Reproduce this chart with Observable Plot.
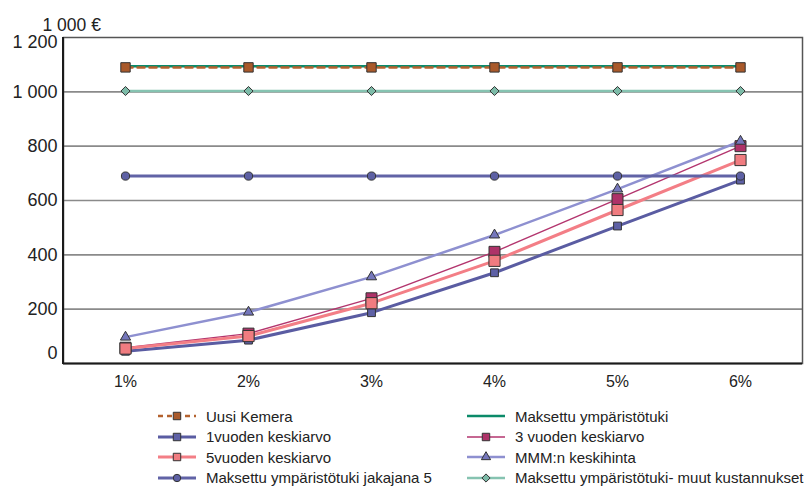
<!DOCTYPE html>
<html>
<head>
<meta charset="utf-8">
<script src="https://cdn.jsdelivr.net/npm/d3@7"></script>
<script src="https://cdn.jsdelivr.net/npm/@observablehq/plot@0.6"></script>
<style>
  body { margin: 0; background: #fff; font-family: "Liberation Sans", Arial, sans-serif; }
  #chart { width: 808px; }
  #legend {
    display: grid;
    grid-template-columns: 309px 341px;
    grid-auto-rows: 20.5px;
    margin-left: 157px;
    padding-top: 6px;
    font-size: 15px;
    color: #222;
  }
  .item { display: flex; align-items: center; white-space: nowrap; }
  .item svg { flex: none; margin-right: 9px; }
</style>
</head>
<body>
<div id="chart"></div>
<script>
// Korkokanta (x-akseli)
const rates = ["1%", "2%", "3%", "4%", "5%", "6%"];

// Sarjat, 1 000 €
const uusiKemera = [1090, 1090, 1090, 1090, 1090, 1090];
const maksettuTuki = [1094, 1094, 1094, 1094, 1094, 1094];
const vuosi1 = [45, 86, 187, 334, 506, 675];
const vuosi3 = [58, 110, 240, 411, 605, 800];
const vuosi5 = [55, 101, 222, 378, 565, 749];
const mmmHinta = [97, 189, 319, 473, 642, 818];
const tukiJakajana5 = [690, 690, 690, 690, 690, 690];
const tukiMuutKustannukset = [1003, 1003, 1003, 1003, 1003, 1003];

// y-akselin jakoviivat ja nimiöt
const yTicks = [0, 200, 400, 600, 800, 1000, 1200];
const yUnit = "1 000 €";

const series = [
  {name: "Uusi Kemera", values: uusiKemera, stroke: "#B4622E", width: 2.5, dash: "7,5", symbol: "square", r: 5.3, fill: "#A9592A"},
  {name: "Maksettu ympäristötuki", values: maksettuTuki, stroke: "#0B8A69", width: 2.5, dash: null, symbol: null},
  {name: "1vuoden keskiarvo", values: vuosi1, stroke: "#5A5CA2", width: 3, dash: null, symbol: "square", r: 4.4, fill: "#5E61A6"},
  {name: "3 vuoden keskiarvo", values: vuosi3, stroke: "#B3356E", width: 1.4, dash: null, symbol: "square", r: 6.2, fill: "#AE3268"},
  {name: "5vuoden keskiarvo", values: vuosi5, stroke: "#F37E86", width: 3, dash: null, symbol: "square", r: 6.3, fill: "#F07C80"},
  {name: "MMM:n keskihinta", values: mmmHinta, stroke: "#8E90D0", width: 2.5, dash: null, symbol: "triangle", r: 3.8, fill: "#7577BC"},
  {name: "Maksettu ympäristötuki jakajana 5", values: tukiJakajana5, stroke: "#6163A6", width: 3, dash: null, symbol: "circle", r: 4.1, fill: "#5D60A4"},
  {name: "Maksettu ympäristötuki- muut kustannukset", values: tukiMuutKustannukset, stroke: "#86C3B1", width: 2.5, dash: null, symbol: "diamond2", r: 4.1, fill: "#7DBBA8"}
];

const rows = series.flatMap(s => s.values.map((v, i) => ({series: s.name, rate: rates[i], value: v})));

const fiFormat = d3.formatLocale({decimal: ",", thousands: "\u00a0", grouping: [3], currency: ["", " €"]}).format(",d");

const lineMarks = series.map(s => Plot.line(rows.filter(d => d.series === s.name), {
  x: "rate", y: "value", stroke: s.stroke, strokeWidth: s.width, strokeDasharray: s.dash
}));

// Uusi Kemera: dashed line drawn over the green line
const drawOrder = [1, 0, 2, 3, 4, 5, 6, 7];

const dotMarks = series.filter(s => s.symbol).map(s => Plot.dot(rows.filter(d => d.series === s.name), {
  x: "rate", y: "value", symbol: s.symbol, r: s.r, fill: s.fill, stroke: "#333", strokeWidth: 1
}));

// Dark left axis line along the plot frame
function leftAxisLine(index, scales, values, dimensions) {
  const {marginLeft, marginTop, height, marginBottom} = dimensions;
  const g = d3.create("svg:line")
    .attr("x1", marginLeft).attr("x2", marginLeft)
    .attr("y1", marginTop).attr("y2", height - marginBottom + 1)
    .attr("stroke", "#1a1a1a").attr("stroke-width", 2);
  return g.node();
}

const chart = Plot.plot({
  width: 808,
  height: 400,
  marginLeft: 63,
  marginRight: 6,
  marginTop: 37,
  marginBottom: 37,
  style: {fontFamily: "'Liberation Sans', Arial, sans-serif", background: "#fff", color: "#222"},
  x: {type: "point", domain: rates, padding: 0.5, label: null},
  y: {domain: [0, 1200], label: null},
  marks: [
    Plot.ruleY(yTicks.filter(t => t > 0 && t < 1200), {stroke: "#8a8a8a", strokeWidth: 1.6}),
    Plot.frame({stroke: "#555", strokeWidth: 1.5}),
    leftAxisLine,
    Plot.ruleY([0], {stroke: "#1a1a1a", strokeWidth: 2}),
    ...drawOrder.map(i => lineMarks[i]),
    ...dotMarks,
    Plot.axisX({tickSize: 0, tickPadding: 12, fontSize: 16, label: null}),
    Plot.axisY(yTicks.filter(t => t > 0 && t < 1200), {tickSize: 0, tickPadding: 6, fontSize: 18, tickFormat: fiFormat, label: null}),
    Plot.text([0], {y: d => d, text: fiFormat, frameAnchor: "left", textAnchor: "end", dx: -6, dy: -10, fontSize: 18}),
    Plot.text([1200], {y: d => d, text: fiFormat, frameAnchor: "left", textAnchor: "end", dx: -6, dy: 5, fontSize: 18}),
    Plot.text([yUnit], {frameAnchor: "top-left", text: d => d, textAnchor: "start", dx: -21, dy: -19, fontSize: 17.5})
  ]
});
document.getElementById("chart").appendChild(chart);

// Selite kahdessa sarakkeessa
const legend = document.createElement("div");
legend.id = "legend";
for (const s of series) {
  const item = document.createElement("div");
  item.className = "item";
  const svg = d3.create("svg").attr("width", 40).attr("height", 16);
  svg.append("line").attr("x1", 1).attr("x2", 39).attr("y1", 8).attr("y2", 8)
    .attr("stroke", s.stroke).attr("stroke-width", s.width)
    .attr("stroke-dasharray", s.dash ? "5,4" : null);
  if (s.symbol) {
    const sym = {square: d3.symbolSquare, triangle: d3.symbolTriangle, circle: d3.symbolCircle, diamond2: d3.symbolDiamond2}[s.symbol];
    const r = s.symbol === "square" ? 4.2 : s.r * 0.9;
    svg.append("path").attr("transform", "translate(20,8)")
      .attr("d", d3.symbol(sym, r * r * Math.PI)())
      .attr("fill", s.fill).attr("stroke", "#333").attr("stroke-width", 1);
  }
  item.appendChild(svg.node());
  const label = document.createElement("span");
  label.textContent = s.name;
  item.appendChild(label);
  legend.appendChild(item);
}
document.body.appendChild(legend);
</script>
</body>
</html>
